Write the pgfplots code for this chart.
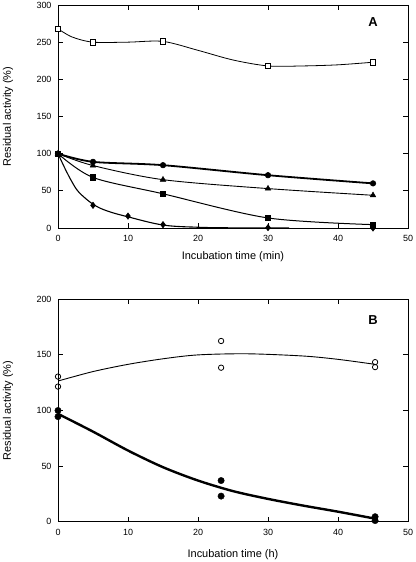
\documentclass[border=0pt]{standalone}
\usepackage{fontspec}
\setmainfont{Liberation Sans}
\usepackage{pgfplots}
\pgfplotsset{compat=1.18}
\begin{document}
\begin{tikzpicture}[x=1bp,y=1bp]
\path[use as bounding box] (0,0) rectangle (415,562);
\pgfplotsset{
  myax/.style={
    scale only axis, width=350bp,
    xmin=0, xmax=50, xtick={0,10,...,50},
    tick align=inside, major tick length=5bp,
    axis line style={line width=0.9bp},
    tick style={line width=0.8bp, black},
    ticklabel style={font=\fontsize{9}{10}\selectfont},
    /pgf/number format/assume math mode=true,
    xticklabel style={yshift=-4bp},
    yticklabel style={xshift=-3bp},
    label style={font=\fontsize{11}{13}\selectfont},
    x label style={at={(axis description cs:0.5,-0.13)}, anchor=center},
    y label style={at={(axis description cs:-0.143,0.5)}, anchor=center},
    ylabel={Residual activity (\%)},
  }
}
% ---------- Panel A ----------
\begin{axis}[myax, at={(58bp,334bp)}, anchor=south west, height=223bp,
  ymin=0, ymax=300, ytick={0,50,...,300},
  xlabel={Incubation time (min)}]
% open squares: fitted curve, then marks
\addplot[black, line width=0.8bp, smooth, tension=0.5]
  coordinates {(0,268) (2,257) (5,250) (10,250) (15,251) (20,239) (25,226) (30,218) (35,218) (40,219.5) (45,223)};
\addplot[black, only marks, mark=square*, mark size=2.7bp, mark options={fill=white, line width=0.7bp}]
  coordinates {(0,268) (5,250) (15,251) (30,218) (45,223)};
% circles (thick)
\addplot[black, line width=1.8bp, smooth, mark=*, mark size=2.8bp, mark options={line width=0.5bp}]
  coordinates {(0,100) (5,89) (15,84.5) (30,71) (45,60)};
% triangles
\addplot[black, line width=0.9bp, smooth, mark=triangle*, mark size=3.2bp, mark options={line width=0.5bp}]
  coordinates {(0,100) (5,84) (15,65) (30,53) (45,44)};
% filled squares
\addplot[black, line width=1bp, smooth, mark=square*, mark size=2.7bp, mark options={line width=0.5bp}]
  coordinates {(0,100) (5,68) (15,46) (30,13.5) (45,4.5)};
% diamonds curve
\addplot[black, line width=1.1bp, smooth, tension=0.6]
  coordinates {(0,100) (1,80) (2,62) (3,48) (5,32) (7,23) (10,15) (15,4) (20,1) (25,0.2) (33,0)};
\addplot[black, only marks, mark=diamond*, mark size=3.2bp, mark options={line width=0.5bp}]
  coordinates {(5,30.5) (10,16) (15,4.5) (30,0.5) (45,0)};
\node[font=\bfseries\fontsize{13}{15}\selectfont] at (axis cs:45,277) {A};
\end{axis}
% ---------- Panel B ----------
\begin{axis}[myax, at={(58bp,40.3bp)}, anchor=south west, height=222.4bp,
  ymin=0, ymax=200, ytick={0,50,...,200},
  xlabel={Incubation time (h)},
  x label style={at={(axis description cs:0.5,-0.148)}, anchor=center}]
\addplot[black, line width=0.9bp, smooth]
  coordinates {(0,126.5) (5,135) (10,141.5) (15,146.5) (20,150) (27,151) (35,149) (40,146) (45.3,141.5)};
\addplot[black, only marks, mark=o, mark size=2.7bp, mark options={line width=0.8bp}]
  coordinates {(0,130.5) (0,121.5) (23.3,162.5) (23.3,138.5) (45.3,143.5) (45.3,139)};
\addplot[black, line width=2.4bp, smooth]
  coordinates {(0,97) (5,81) (10,64) (15,49) (20,37) (25,27.5) (30,20.5) (35,14.5) (40,9) (45.5,2.5)};
\addplot[black, only marks, mark=*, mark size=3.2bp]
  coordinates {(0,100) (0,94.5) (23.3,37) (23.3,23) (45.3,4.5) (45.3,1)};
\node[font=\bfseries\fontsize{13}{15}\selectfont] at (axis cs:45,181) {B};
\end{axis}
\end{tikzpicture}
\end{document}
